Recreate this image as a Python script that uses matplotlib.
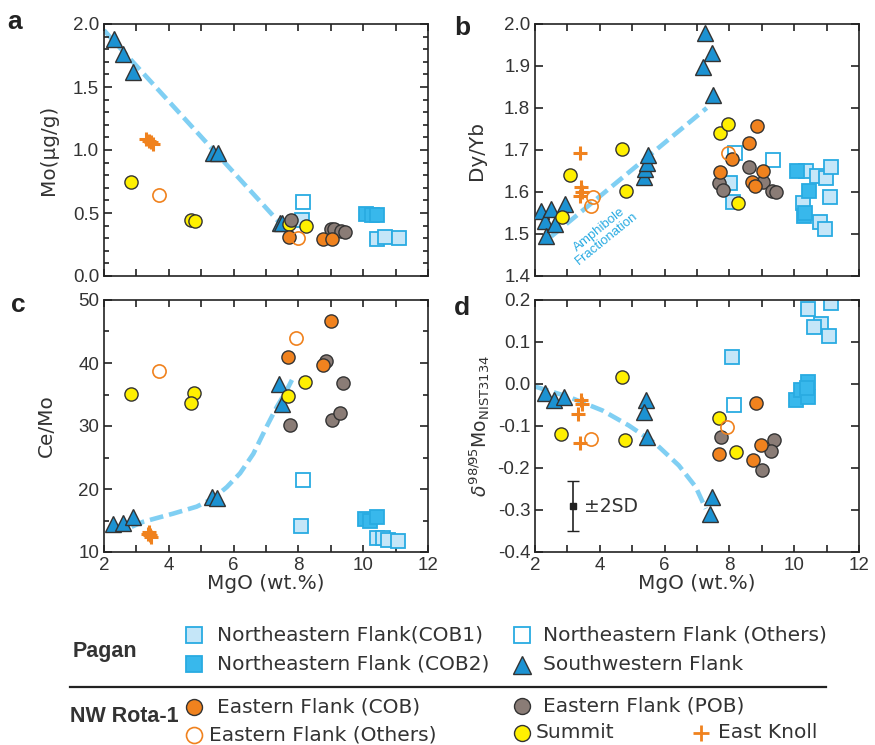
import numpy as np
import matplotlib
matplotlib.use("Agg")
import matplotlib.pyplot as plt
from matplotlib.ticker import MultipleLocator

plt.rcParams['font.family'] = ['Liberation Sans', 'DejaVu Sans']
plt.rcParams['mathtext.fontset'] = 'custom'
plt.rcParams['mathtext.rm'] = 'DejaVu Sans'
plt.rcParams['mathtext.it'] = 'DejaVu Sans:italic'

# цвета
c_orange = '#F0821E'
c_grey = '#8A7C76'
c_yellow = '#FFF000'
c_tri = '#1C92D2'
c_sq_light = '#C5E6F8'
c_sq_dark = '#38B8EC'
c_sq_edge = '#29ABE2'
c_line = '#80CFF3'
c_edge = '#333333'
c_text = '#333333'

# ---- панель a: Mo ----
a_tri_x = [2.31, 2.6, 2.9, 5.35, 5.52, 7.43, 7.48]
a_tri_y = [1.88, 1.76, 1.62, 0.98, 0.98, 0.42, 0.42]
a_grey_x = [7.76, 9.0, 9.1, 9.3, 9.45]
a_grey_y = [0.445, 0.37, 0.375, 0.355, 0.35]
a_yel_x = [2.82, 4.7, 4.82, 7.7, 8.22]
a_yel_y = [0.75, 0.445, 0.435, 0.41, 0.40]
a_oopen_x = [3.7, 7.98]
a_oopen_y = [0.645, 0.30]
a_ofill_x = [7.71, 8.75, 9.03]
a_ofill_y = [0.31, 0.29, 0.29]
a_knoll_x = [3.3, 3.4, 3.45, 3.5]
a_knoll_y = [1.09, 1.07, 1.06, 1.05]
a_sqopen_x = [8.15]
a_sqopen_y = [0.585]
a_sq1_x = [8.1, 10.44, 10.67, 11.1]
a_sq1_y = [0.445, 0.29, 0.31, 0.305]
a_sq2_x = [10.1, 10.26, 10.44]
a_sq2_y = [0.49, 0.485, 0.485]
a_line_x = [2.0, 7.5]
a_line_y = [1.95, 0.40]

# ---- панель b: Dy/Yb ----
b_tri_x = [2.2, 2.3, 2.33, 2.5, 2.61, 2.92, 5.35, 5.4, 5.45, 5.5, 7.2, 7.25, 7.45, 7.5]
b_tri_y = [1.555, 1.53, 1.495, 1.559, 1.525, 1.571, 1.635, 1.655, 1.67, 1.688, 1.898, 1.978, 1.932, 1.831]
b_grey_x = [8.59, 7.69, 7.79, 9.03, 9.31, 9.44]
b_grey_y = [1.660, 1.622, 1.605, 1.625, 1.603, 1.601]
b_yel_x = [2.84, 3.07, 4.7, 4.82, 7.71, 7.97, 8.25]
b_yel_y = [1.541, 1.640, 1.702, 1.603, 1.741, 1.762, 1.575]
b_oopen_x = [3.79, 3.72, 7.97]
b_oopen_y = [1.587, 1.567, 1.694]
b_ofill_x = [8.85, 8.59, 8.07, 7.71, 9.03, 8.7, 8.8]
b_ofill_y = [1.757, 1.717, 1.678, 1.648, 1.651, 1.625, 1.614]
b_knoll_x = [3.38, 3.42, 3.45, 3.38]
b_knoll_y = [1.692, 1.612, 1.600, 1.590]
b_sqopen_x = [8.18, 9.36]
b_sqopen_y = [1.692, 1.676]
b_sq1_x = [8.02, 8.1, 10.37, 10.7, 10.98, 11.14, 11.11, 10.27, 10.8, 10.96]
b_sq1_y = [1.621, 1.577, 1.651, 1.637, 1.633, 1.660, 1.589, 1.573, 1.529, 1.513]
b_sq2_x = [10.08, 10.47, 10.29, 10.33]
b_sq2_y = [1.651, 1.603, 1.543, 1.550]
b_line_x = [2.5, 7.3]
b_line_y = [1.494, 1.80]

# ---- панель c: Ce/Mo ----
c_tri_x = [2.29, 2.6, 2.88, 5.33, 5.5, 7.41, 7.48]
c_tri_y = [14.4, 14.6, 15.5, 18.7, 18.5, 36.6, 33.5]
c_grey_x = [8.85, 7.74, 9.03, 9.28, 9.39]
c_grey_y = [40.3, 30.1, 30.9, 32.0, 36.9]
c_yel_x = [2.82, 4.79, 4.69, 7.69, 8.2]
c_yel_y = [35.1, 35.2, 33.7, 34.7, 37.0]
c_oopen_x = [3.7, 7.93]
c_oopen_y = [38.7, 44.0]
c_ofill_x = [9.0, 7.69, 8.75]
c_ofill_y = [46.6, 41.0, 39.7]
c_knoll_x = [3.35, 3.42, 3.45, 3.4]
c_knoll_y = [12.9, 12.7, 12.4, 13.1]
c_sqopen_x = [8.13]
c_sqopen_y = [21.4]
c_sq1_x = [8.08, 10.42, 10.62, 10.78, 11.08]
c_sq1_y = [14.2, 12.3, 12.3, 11.9, 11.75]
c_sq2_x = [10.06, 10.21, 10.42]
c_sq2_y = [15.3, 15.0, 15.6]
c_line_x = [2.85, 3.21, 4.14, 4.86, 5.37, 5.79, 6.2, 6.61, 7.02, 7.33, 7.64, 7.82]
c_line_y = [14.0, 14.8, 16.1, 17.2, 18.5, 20.3, 22.5, 25.6, 29.9, 33.0, 35.7, 37.5]

# ---- панель d: d98/95Mo ----
d_tri_x = [2.31, 2.59, 2.9, 5.42, 5.36, 5.47, 7.45, 7.4]
d_tri_y = [-0.022, -0.038, -0.031, -0.038, -0.067, -0.125, -0.268, -0.309]
d_grey_x = [7.73, 9.38, 9.27, 9.02]
d_grey_y = [-0.125, -0.133, -0.160, -0.204]
d_yel_x = [4.7, 2.81, 4.78, 7.68, 8.21]
d_yel_y = [0.016, -0.119, -0.133, -0.081, -0.162]
d_oopen_x = [3.72, 7.94]
d_oopen_y = [-0.131, -0.103]
d_ofill_x = [8.81, 7.68, 8.99, 8.73]
d_ofill_y = [-0.046, -0.166, -0.146, -0.182]
d_knoll_x = [3.42, 3.46, 3.33, 3.4]
d_knoll_y = [-0.038, -0.047, -0.072, -0.140]
d_sqopen_x = [8.14]
d_sqopen_y = [-0.050]
d_sq1_x = [8.09, 10.43, 10.82, 10.61, 11.13, 11.08]
d_sq1_y = [0.065, 0.179, 0.143, 0.135, 0.193, 0.114]
d_sq2_x = [10.05, 10.2, 10.42, 10.42, 10.4]
d_sq2_y = [-0.038, -0.015, 0.005, -0.030, -0.010]
d_line_x = [2.0, 3.05, 4.08, 4.9, 5.72, 6.44, 6.96, 7.27]
d_line_y = [-0.006, -0.031, -0.063, -0.099, -0.142, -0.194, -0.245, -0.297]
d_err_x, d_err_y, d_err = 3.17, -0.291, 0.06

MS = 9.5
wide = ['DejaVu Sans']


def draw_panel(ax, lx, ly, tri, grey, yel, oopen, ofill, knoll, sqopen, sq1, sq2):
    ax.plot(lx, ly, color=c_line, lw=3.3, dashes=(3.0, 1.3), zorder=1)
    ax.plot(*sqopen, 's', ms=MS, mfc='white', mec=c_sq_edge, mew=1.3, ls='none', zorder=2)
    ax.plot(*sq1, 's', ms=MS, mfc=c_sq_light, mec=c_sq_edge, mew=1.3, ls='none', zorder=2)
    ax.plot(*sq2, 's', ms=MS, mfc=c_sq_dark, mec=c_sq_edge, mew=1.3, ls='none', zorder=2)
    ax.plot(*tri, '^', ms=MS + 1.5, mfc=c_tri, mec=c_edge, mew=1.0, ls='none', zorder=3)
    ax.plot(*yel, 'o', ms=MS, mfc=c_yellow, mec=c_edge, mew=1.0, ls='none', zorder=3)
    ax.plot(*grey, 'o', ms=MS, mfc=c_grey, mec=c_edge, mew=1.0, ls='none', zorder=4)
    ax.plot(*ofill, 'o', ms=MS, mfc=c_orange, mec=c_edge, mew=1.0, ls='none', zorder=4)
    ax.plot(*oopen, 'o', ms=MS, mfc='none', mec=c_orange, mew=1.2, ls='none', zorder=4)
    ax.plot(*knoll, '+', ms=10, mec=c_orange, mew=2.2, ls='none', zorder=5)


def style_axes(ax, ylim, ymaj, ymin=None, xlabels=False):
    ax.set_xlim(2, 12)
    ax.set_ylim(*ylim)
    ax.xaxis.set_major_locator(MultipleLocator(2))
    ax.xaxis.set_minor_locator(MultipleLocator(1))
    ax.yaxis.set_major_locator(MultipleLocator(ymaj))
    if ymin:
        ax.yaxis.set_minor_locator(MultipleLocator(ymin))
    ax.tick_params(which='both', direction='in', top=True, right=True,
                   labelsize=13.5, colors='#222222', width=1.2, labelcolor=c_text)
    ax.tick_params(axis='x', which='both', length=5)
    ax.tick_params(axis='y', which='major', length=6)
    ax.tick_params(axis='y', which='minor', length=3.5)
    for s in ax.spines.values():
        s.set_linewidth(1.2)
        s.set_color('#222222')
    if xlabels:
        ax.set_xlabel('MgO (wt.%)', fontsize=14.4, family=wide, color=c_text, labelpad=0)
    else:
        ax.tick_params(axis='x', labelbottom=False)


fig = plt.figure(figsize=(8.75, 7.45), dpi=100)
axw, axh = 324 / 875, 252 / 745
ax_a = fig.add_axes([104 / 875, 1 - 276 / 745, axw, axh])
ax_b = fig.add_axes([535 / 875, 1 - 276 / 745, axw, axh])
ax_c = fig.add_axes([104 / 875, 1 - 552 / 745, axw, axh])
ax_d = fig.add_axes([535 / 875, 1 - 552 / 745, axw, axh])

draw_panel(ax_a, a_line_x, a_line_y, (a_tri_x, a_tri_y), (a_grey_x, a_grey_y), (a_yel_x, a_yel_y),
           (a_oopen_x, a_oopen_y), (a_ofill_x, a_ofill_y), (a_knoll_x, a_knoll_y),
           (a_sqopen_x, a_sqopen_y), (a_sq1_x, a_sq1_y), (a_sq2_x, a_sq2_y))
style_axes(ax_a, (0, 2.0), 0.5, 0.1)
ax_a.yaxis.set_major_formatter(plt.FormatStrFormatter('%.1f'))
ax_a.set_ylabel('Mo(μg/g)', fontsize=14.4, family=wide, color=c_text, labelpad=11)

draw_panel(ax_b, b_line_x, b_line_y, (b_tri_x, b_tri_y), (b_grey_x, b_grey_y), (b_yel_x, b_yel_y),
           (b_oopen_x, b_oopen_y), (b_ofill_x, b_ofill_y), (b_knoll_x, b_knoll_y),
           (b_sqopen_x, b_sqopen_y), (b_sq1_x, b_sq1_y), (b_sq2_x, b_sq2_y))
style_axes(ax_b, (1.4, 2.0), 0.1)
ax_b.yaxis.set_major_formatter(plt.FormatStrFormatter('%.1f'))
ax_b.set_ylabel('Dy/Yb', fontsize=14.4, family=wide, color=c_text, labelpad=13)
ax_b.text(4.1, 1.50, 'Amphibole\nFractionation', color=c_sq_edge, fontsize=9.5,
          rotation=39, ha='center', va='center', rotation_mode='anchor', linespacing=1.0)

draw_panel(ax_c, c_line_x, c_line_y, (c_tri_x, c_tri_y), (c_grey_x, c_grey_y), (c_yel_x, c_yel_y),
           (c_oopen_x, c_oopen_y), (c_ofill_x, c_ofill_y), (c_knoll_x, c_knoll_y),
           (c_sqopen_x, c_sqopen_y), (c_sq1_x, c_sq1_y), (c_sq2_x, c_sq2_y))
style_axes(ax_c, (10, 50), 10, 5, xlabels=True)
ax_c.set_ylabel('Ce/Mo', fontsize=14.4, family=wide, color=c_text, labelpad=16)

draw_panel(ax_d, d_line_x, d_line_y, (d_tri_x, d_tri_y), (d_grey_x, d_grey_y), (d_yel_x, d_yel_y),
           (d_oopen_x, d_oopen_y), (d_ofill_x, d_ofill_y), (d_knoll_x, d_knoll_y),
           (d_sqopen_x, d_sqopen_y), (d_sq1_x, d_sq1_y), (d_sq2_x, d_sq2_y))
style_axes(ax_d, (-0.4, 0.2), 0.1, xlabels=True)
ax_d.yaxis.set_major_formatter(plt.FormatStrFormatter('%.1f'))
ax_d.set_ylabel(r'$\delta^{98/95}$Mo$_{\mathrm{NIST3134}}$', fontsize=13.5, family=wide,
                color=c_text, labelpad=4)
ax_d.errorbar(d_err_x, d_err_y, yerr=d_err, fmt='s', ms=4, color='#222222', capsize=4, lw=1.2)
ax_d.text(3.5, d_err_y, '±2SD', fontsize=13.5, family=wide, va='center', ha='left', color=c_text)

for lab, (x, y) in zip('abcd', [(15, 22), (462, 28), (18, 305), (462, 308)]):
    fig.text(x / 875, 1 - y / 745, lab, fontsize=19, fontweight='bold', ha='center', va='center',
             color='#222222')

# ---- легенда (в пиксельных координатах) ----
lax = fig.add_axes([0, 0, 1, 1], facecolor='none')
lax.set_xlim(0, 875)
lax.set_ylim(745, 0)
lax.axis('off')
lfont = dict(fontsize=14.5, va='center', ha='left', color=c_text, family=wide)
lms = 11.5
lax.plot([194], [635], 's', ms=lms, mfc=c_sq_light, mec=c_sq_edge, mew=1.3)
lax.text(217, 635, 'Northeastern Flank(COB1)', **lfont)
lax.plot([522], [635], 's', ms=lms, mfc='white', mec=c_sq_edge, mew=1.3)
lax.text(543, 635, 'Northeastern Flank (Others)', **lfont)
lax.plot([194], [664], 's', ms=lms, mfc=c_sq_dark, mec=c_sq_edge, mew=1.3)
lax.text(217, 664, 'Northeastern Flank (COB2)', **lfont)
lax.plot([522], [665], '^', ms=lms + 1, mfc=c_tri, mec=c_edge, mew=1.0)
lax.text(543, 665, 'Southwestern Flank', **lfont)
lax.plot([70, 826], [687, 687], color='#222222', lw=1.6)
lax.plot([194], [707], 'o', ms=lms, mfc=c_orange, mec=c_edge, mew=1.0)
lax.text(217, 707, 'Eastern Flank (COB)', **lfont)
lax.plot([522], [706], 'o', ms=lms, mfc=c_grey, mec=c_edge, mew=1.0)
lax.text(543, 706, 'Eastern Flank (POB)', **lfont)
lax.plot([194], [735], 'o', ms=lms, mfc='none', mec=c_orange, mew=1.2)
lax.text(209, 735, 'Eastern Flank (Others)', **lfont)
lax.plot([522], [733], 'o', ms=lms, mfc=c_yellow, mec=c_edge, mew=1.0)
lax.text(536, 733, 'Summit', **lfont)
lax.plot([701], [733], '+', ms=11, mec=c_orange, mew=2.0)
lax.text(718, 733, 'East Knoll', **lfont)
lax.text(105, 652, 'Pagan', fontsize=15.5, fontweight='bold', ha='center', va='center', color=c_text)
lax.text(124, 716, 'NW Rota-1', fontsize=15.5, fontweight='bold', ha='center', va='center',
         color=c_text)

fig.savefig('out.png', dpi=100)
